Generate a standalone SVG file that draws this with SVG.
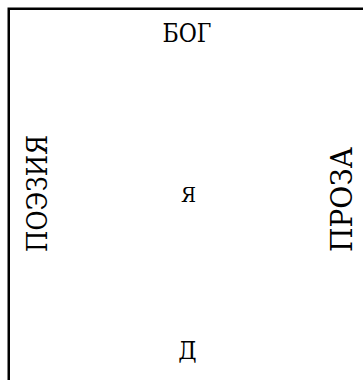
<svg xmlns="http://www.w3.org/2000/svg" width="363" height="380" viewBox="0 0 363 380">
<style>
.t{font-family:"DejaVu Serif","Liberation Serif",serif;fill:#000}
</style>
<rect x="0" y="0" width="363" height="380" fill="#fff"/>
<g id="frame"><rect x="8.75" y="8.75" width="400" height="400" fill="none" stroke="#000" stroke-width="2.5"/></g>
<g id="connectors"></g>
<g id="bog"><text class="t" x="187" y="41.7" font-size="26" text-anchor="middle" textLength="49" lengthAdjust="spacingAndGlyphs">БОГ</text></g>
<g id="ya"><text class="t" x="188.5" y="201.7" font-size="20.5" text-anchor="middle" textLength="15" lengthAdjust="spacingAndGlyphs">Я</text></g>
<g id="d"><text class="t" x="187.5" y="359.3" font-size="24" text-anchor="middle" textLength="18.4" lengthAdjust="spacingAndGlyphs">Д</text></g>
<g id="poeziya"><text class="t" transform="translate(46.7,252) rotate(-90)" font-size="27.4" textLength="117" lengthAdjust="spacingAndGlyphs">ПОЭЗИЯ</text></g>
<g id="proza"><text class="t" transform="translate(351.7,252) rotate(-90)" font-size="29.7" textLength="105" lengthAdjust="spacingAndGlyphs">ПРОЗА</text></g>
</svg>
